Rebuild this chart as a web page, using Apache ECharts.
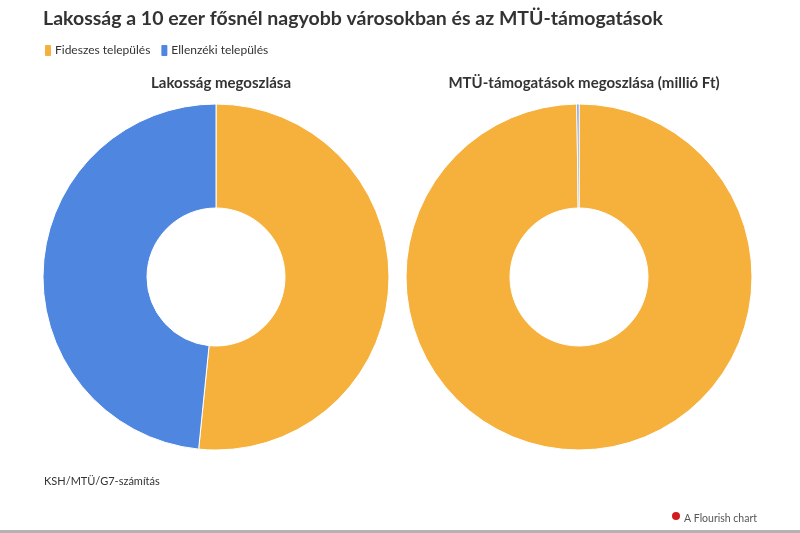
<!DOCTYPE html>
<html>
<head>
<meta charset="utf-8">
<script src="https://cdn.jsdelivr.net/npm/echarts@6/dist/echarts.min.js"></script>
<style>
  html, body { margin: 0; padding: 0; background: #fff; }
  #chart { width: 800px; height: 533px; }
</style>
</head>
<body>
<div id="chart"></div>
<script>
// kategoriak es ertekek (szazalek, a kep alapjan becsulve)
const categories = ['Fideszes település', 'Ellenzéki település'];
const lakossag = [51.6, 48.4];
const mtuTamogatas = [99.8, 0.2];
const colors = ['#f6b13c', '#4f86e0'];

function toData(values) {
    return categories.map((name, i) => ({ name: name, value: values[i] }));
}

window.onload = function () {
    const chart = echarts.init(document.getElementById('chart'));
    const font = 'Lato, "Noto Sans", sans-serif';

    const option = {
        animation: false,
        color: colors,
        textStyle: { fontFamily: font },
        title: [
            {
                text: 'Lakosság a 10 ezer fősnél nagyobb városokban és az MTÜ-támogatások',
                left: 38, top: 4,
                textStyle: { fontSize: 19.5, fontWeight: 'bold', color: '#333', fontFamily: font }
            },
            {
                text: 'Lakosság megoszlása',
                left: 216, top: 71, textAlign: 'center',
                textStyle: { fontSize: 15, fontWeight: 'bold', color: '#333', fontFamily: font }
            },
            {
                text: 'MTÜ-támogatások megoszlása (millió Ft)',
                left: 579, top: 71, textAlign: 'center',
                textStyle: { fontSize: 15, fontWeight: 'bold', color: '#333', fontFamily: font }
            },
            {
                text: 'KSH/MTÜ/G7-számítás',
                left: 39, top: 471,
                textStyle: { fontSize: 11, fontWeight: 'normal', color: '#333', fontFamily: font }
            },
            {
                text: 'A Flourish chart',
                left: 679, top: 508,
                textStyle: { fontSize: 10.5, fontWeight: 'normal', color: '#555', fontFamily: font }
            }
        ],
        legend: {
            left: 38, top: 38,
            icon: 'roundRect',
            itemWidth: 8, itemHeight: 13, itemGap: 9,
            textStyle: { fontSize: 12, color: '#333', padding: [0, 0, 0, -2] },
            data: categories
        },
        graphic: [
            { type: 'circle', shape: { cx: 676, cy: 516, r: 4 }, style: { fill: '#d01c1c' } },
            { type: 'rect', shape: { x: 0, y: 530, width: 800, height: 3 }, style: { fill: '#b3b3b3' } }
        ],
        series: [
            {
                type: 'pie',
                center: [216, 277],
                radius: [69, 173],
                startAngle: 90,
                label: { show: false },
                labelLine: { show: false },
                itemStyle: { borderColor: '#fff', borderWidth: 1 },
                emphasis: { disabled: true },
                data: toData(lakossag)
            },
            {
                type: 'pie',
                center: [579, 277],
                radius: [69, 173],
                startAngle: 90,
                label: { show: false },
                labelLine: { show: false },
                itemStyle: { borderColor: '#fff', borderWidth: 1 },
                emphasis: { disabled: true },
                data: toData(mtuTamogatas)
            }
        ]
    };

    chart.setOption(option);
};
</script>
</body>
</html>
